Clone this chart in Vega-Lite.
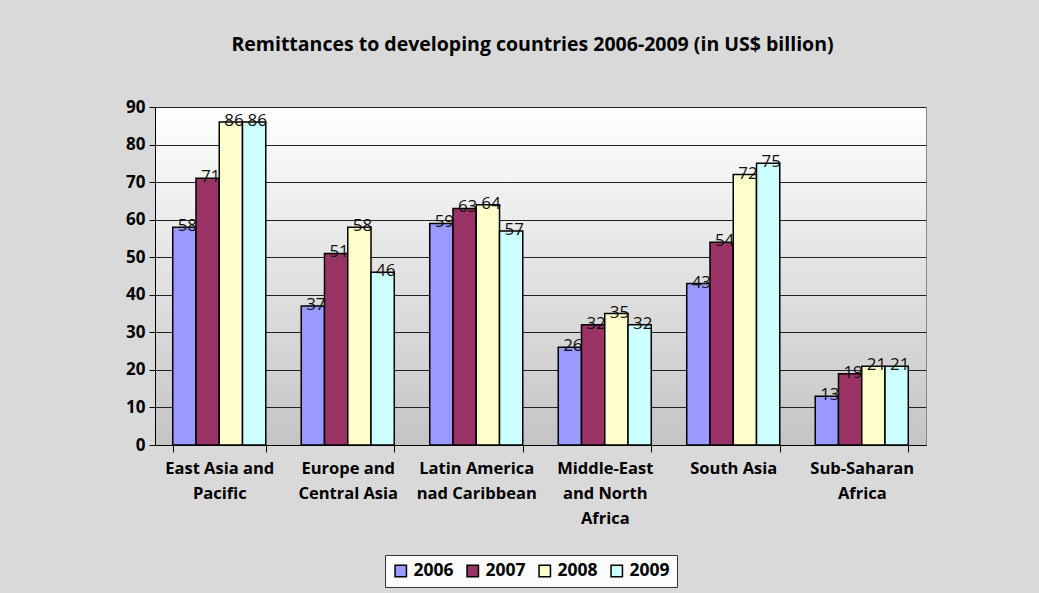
{
  "$schema": "https://vega.github.io/schema/vega-lite/v6.json",
  "width": 771,
  "height": 338,
  "autosize": {"type": "none"},
  "padding": {"left": 155, "top": 107, "right": 113, "bottom": 148},
  "background": "#d9d9d9",
  "title": {
    "text": "Remittances to developing countries 2006-2009 (in US$ billion)",
    "font": "Open Sans",
    "fontSize": 19.5,
    "fontWeight": "bold",
    "color": "#000000",
    "anchor": "middle",
    "offset": 43,
    "dx": -8
  },
  "data": {
    "values": [
      {"region": "East Asia and Pacific", "year": "2006", "value": 58},
      {"region": "East Asia and Pacific", "year": "2007", "value": 71},
      {"region": "East Asia and Pacific", "year": "2008", "value": 86},
      {"region": "East Asia and Pacific", "year": "2009", "value": 86},
      {"region": "Europe and Central Asia", "year": "2006", "value": 37},
      {"region": "Europe and Central Asia", "year": "2007", "value": 51},
      {"region": "Europe and Central Asia", "year": "2008", "value": 58},
      {"region": "Europe and Central Asia", "year": "2009", "value": 46},
      {"region": "Latin America nad Caribbean", "year": "2006", "value": 59},
      {"region": "Latin America nad Caribbean", "year": "2007", "value": 63},
      {"region": "Latin America nad Caribbean", "year": "2008", "value": 64},
      {"region": "Latin America nad Caribbean", "year": "2009", "value": 57},
      {"region": "Middle-East and North Africa", "year": "2006", "value": 26},
      {"region": "Middle-East and North Africa", "year": "2007", "value": 32},
      {"region": "Middle-East and North Africa", "year": "2008", "value": 35},
      {"region": "Middle-East and North Africa", "year": "2009", "value": 32},
      {"region": "South Asia", "year": "2006", "value": 43},
      {"region": "South Asia", "year": "2007", "value": 54},
      {"region": "South Asia", "year": "2008", "value": 72},
      {"region": "South Asia", "year": "2009", "value": 75},
      {"region": "Sub-Saharan Africa", "year": "2006", "value": 13},
      {"region": "Sub-Saharan Africa", "year": "2007", "value": 19},
      {"region": "Sub-Saharan Africa", "year": "2008", "value": 21},
      {"region": "Sub-Saharan Africa", "year": "2009", "value": 21}
    ]
  },
  "encoding": {
    "x": {
      "field": "region",
      "type": "nominal",
      "sort": null,
      "scale": {"paddingInner": 0.276, "paddingOuter": 0.138},
      "axis": {
        "title": null,
        "labelAngle": 0,
        "labelFont": "Open Sans",
        "labelFontSize": 16.5,
        "labelFontWeight": "bold",
        "labelColor": "#000000",
        "labelPadding": 8,
        "labelLineHeight": 25,
        "labelBaseline": "top",
        "labelExpr": "datum.value == 'East Asia and Pacific' ? ['East Asia and', 'Pacific'] : datum.value == 'Europe and Central Asia' ? ['Europe and', 'Central Asia'] : datum.value == 'Latin America nad Caribbean' ? ['Latin America', 'nad Caribbean'] : datum.value == 'Middle-East and North Africa' ? ['Middle-East', 'and North', 'Africa'] : datum.value == 'Sub-Saharan Africa' ? ['Sub-Saharan', 'Africa'] : datum.value",
        "tickBand": "extent",
        "tickSize": 7,
        "tickColor": "#000000",
        "domainColor": "#000000",
        "labelLimit": 200
      }
    },
    "xOffset": {"field": "year", "type": "nominal", "scale": {"paddingInner": 0, "paddingOuter": 0}},
    "y": {
      "field": "value",
      "type": "quantitative",
      "scale": {"domain": [0, 90], "nice": false},
      "axis": {
        "title": null,
        "values": [0, 10, 20, 30, 40, 50, 60, 70, 80, 90],
        "labelOverlap": false,
        "labelFont": "Open Sans",
        "labelFontSize": 17,
        "labelFontWeight": "bold",
        "labelColor": "#000000",
        "labelPadding": 4,
        "tickColor": "#000000",
        "tickSize": 6,
        "domainColor": "#000000",
        "gridColor": "#222222",
        "gridWidth": 1
      }
    }
  },
  "layer": [
    {
      "mark": {"type": "bar", "stroke": "#000000", "strokeWidth": 1.5},
      "encoding": {
        "color": {
          "field": "year",
          "type": "nominal",
          "scale": {"domain": ["2006", "2007", "2008", "2009"], "range": ["#9999FF", "#993366", "#FFFFCC", "#CCFFFF"]},
          "legend": {
            "title": null,
            "orient": "none",
            "legendX": 230,
            "legendY": 448,
            "direction": "horizontal",
            "symbolType": "square",
            "symbolSize": 130,
            "symbolStrokeColor": "#000000",
            "symbolStrokeWidth": 1.5,
            "labelFont": "Open Sans",
            "labelFontSize": 17.5,
            "labelFontWeight": "bold",
            "labelColor": "#000000",
            "strokeColor": "#333333",
            "fillColor": "#fbfbfb",
            "padding": 7,
            "columnPadding": 10
          }
        }
      }
    },
    {
      "mark": {"type": "text", "font": "Open Sans", "fontSize": 17, "color": "#111111", "baseline": "middle", "dx": 3, "dy": -1},
      "encoding": {
        "text": {"field": "value", "type": "quantitative"}
      }
    }
  ],
  "config": {
    "view": {
      "stroke": "#888888",
      "fill": {"gradient": "linear", "x1": 0, "y1": 0, "x2": 0, "y2": 1, "stops": [{"offset": 0, "color": "#ffffff"}, {"offset": 1, "color": "#c4c4c4"}]}
    }
  }
}
